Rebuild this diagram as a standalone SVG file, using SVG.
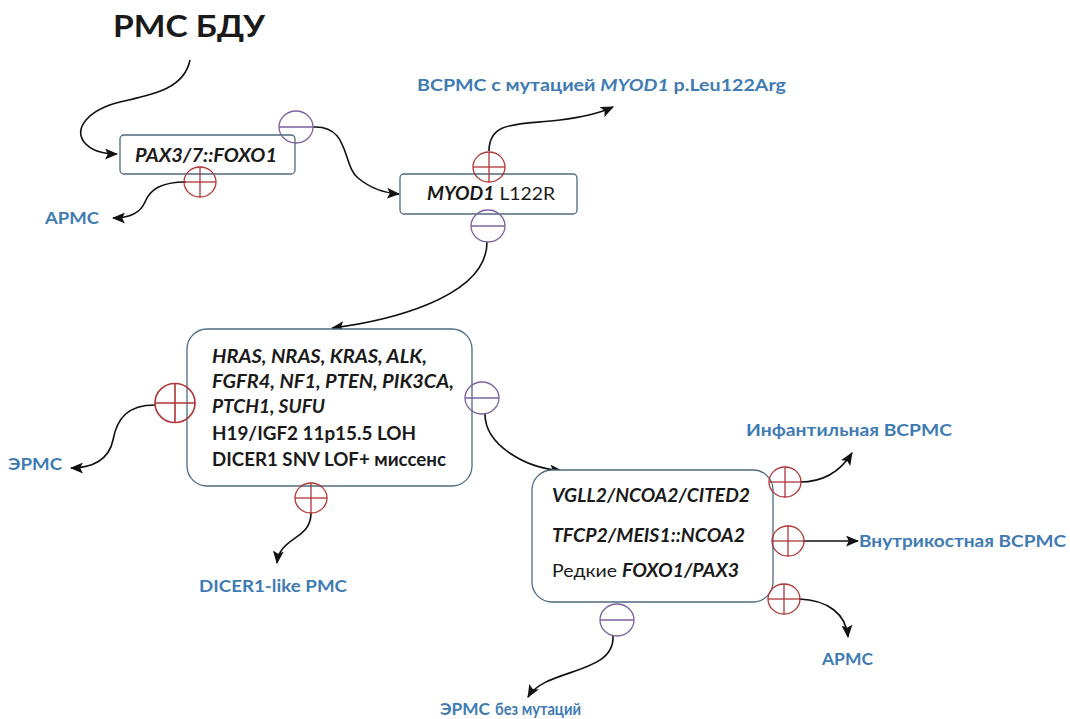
<svg xmlns="http://www.w3.org/2000/svg" width="1070" height="719" viewBox="0 0 1070 719">
  <defs>
    <marker id="ah" viewBox="0 0 12 10" refX="11" refY="5" markerWidth="13" markerHeight="11" markerUnits="userSpaceOnUse" orient="auto">
      <path d="M0,0 L12,5 L0,10 L2.5,5 z" fill="#111"/>
    </marker>
    <g id="plus"><ellipse cx="0" cy="0" rx="16" ry="15"/><line x1="-16" y1="0" x2="16" y2="0"/><line x1="0" y1="-15" x2="0" y2="15"/></g>
    <g id="minus"><ellipse cx="0" cy="0" rx="17" ry="16"/><line x1="-17" y1="0" x2="17" y2="0"/></g>
  </defs>
  <style>
    text { font-family: "Lato", "Open Sans", "Noto Sans", sans-serif; fill: #1a1a1a; }
    .box { fill: #ffffff; stroke: #4d6a80; stroke-width: 1.3; }
    .gene { font-weight: 700; font-style: italic; }
    .b { font-weight: 700; }
    .n { font-weight: 400; }
    .lbl { fill: #3f7bb3; font-weight: 700; font-size: 17px; }
    .lbl tspan { fill: #3f7bb3; }
    .t { font-size: 18px; }
    .conn path, .conn line { fill: none; stroke: #111; stroke-width: 1.6; marker-end: url(#ah); }
    .p { fill: none; stroke: #b03535; stroke-width: 1.3; }
    .p ellipse, .p line { fill: none; stroke: #b03535; }
    .m { fill: none; stroke: #7b62a0; stroke-width: 1.3; }
    .m ellipse, .m line { fill: none; stroke: #7b62a0; }
  </style>
  <rect width="1070" height="719" fill="#ffffff"/>

  <g id="title">
    <text x="113" y="37" font-size="31" font-weight="700" textLength="152" lengthAdjust="spacingAndGlyphs">РМС БДУ</text>
  </g>

  <g class="conn" id="connectors">
    <path d="M190,60 C184,90 150,95 120,102 C88,110 74,128 84,142 C92,152 104,154 117,154"/>
    <path d="M186,182 C160,182 150,190 145,202 C140,214 128,218 113,218"/>
    <path d="M313,127 C350,125 342,165 358,178 C370,188 384,193 399,194"/>
    <path d="M489,151 C489,120 520,125 560,120 C585,117 600,113 613,107"/>
    <path d="M487,242 C487,300 380,322 332,328"/>
    <path d="M155,405 C128,405 117,418 113,440 C109,460 92,468 71,468"/>
    <path d="M311,513 C311,540 280,536 277,563"/>
    <path d="M485,414 C485,445 525,468 562,471"/>
    <path d="M800,482 C822,482 840,472 852,453"/>
    <line x1="803" y1="541" x2="858" y2="541"/>
    <path d="M799,599 C828,600 846,614 848,637"/>
    <path d="M613,636 C615,675 545,668 528,697"/>
  </g>

  <g id="node-pax">
    <rect class="box" x="120" y="135" width="175" height="39" rx="4"/>
    <text class="t gene" x="135" y="162" textLength="142" lengthAdjust="spacingAndGlyphs">PAX3/7::FOXO1</text>
    <use href="#minus" class="m" transform="translate(296,127)"/>
    <use href="#plus" class="p" transform="translate(200,182)"/>
  </g>

  <g id="node-myod">
    <rect class="box" x="400" y="174" width="177" height="40" rx="4"/>
    <text class="t" x="427" y="200" textLength="128" lengthAdjust="spacingAndGlyphs"><tspan class="gene">MYOD1</tspan><tspan class="n"> L122R</tspan></text>
    <use href="#plus" class="p" transform="translate(489,167)"/>
    <use href="#minus" class="m" transform="translate(488,226)"/>
  </g>

  <g id="node-ras">
    <rect class="box" x="187" y="329" width="285" height="157" rx="20"/>
    <text class="t gene" x="212" y="363" textLength="215" lengthAdjust="spacingAndGlyphs">HRAS, NRAS, KRAS,  ALK,</text>
    <text class="t gene" x="212" y="388" textLength="242" lengthAdjust="spacingAndGlyphs">FGFR4,  NF1, PTEN,  PIK3CA,</text>
    <text class="t gene" x="212" y="413" textLength="113" lengthAdjust="spacingAndGlyphs">PTCH1, SUFU</text>
    <text class="t b" x="212" y="440" textLength="204" lengthAdjust="spacingAndGlyphs">H19/IGF2  11p15.5 LOH</text>
    <text class="t b" x="212" y="466" textLength="234" lengthAdjust="spacingAndGlyphs">DICER1  SNV LOF+ миссенс</text>
    <use href="#plus" class="p" transform="translate(175,403) scale(1.25,1.3)"/>
    <use href="#minus" class="m" transform="translate(482,398)"/>
    <use href="#plus" class="p" transform="translate(311,498)"/>
  </g>

  <g id="node-vgll">
    <rect class="box" x="532" y="470" width="241" height="132" rx="20"/>
    <text class="t gene" x="552" y="502" textLength="198" lengthAdjust="spacingAndGlyphs">VGLL2/NCOA2/CITED2</text>
    <text class="t gene" x="552" y="542" textLength="193" lengthAdjust="spacingAndGlyphs">TFCP2/MEIS1::NCOA2</text>
    <text class="t" x="552" y="577" textLength="187" lengthAdjust="spacingAndGlyphs"><tspan class="n">Редкие </tspan><tspan class="gene">FOXO1/PAX3</tspan></text>
    <use href="#plus" class="p" transform="translate(785,482)"/>
    <use href="#plus" class="p" transform="translate(788,541)"/>
    <use href="#plus" class="p" transform="translate(784,599)"/>
    <use href="#minus" class="m" transform="translate(617,620)"/>
  </g>

  <g id="labels">
    <text class="lbl" x="417" y="91" textLength="369" lengthAdjust="spacingAndGlyphs">ВСРМС с мутацией <tspan font-style="italic">MYOD1</tspan> p.Leu122Arg</text>
    <text class="lbl" x="45" y="224" textLength="54" lengthAdjust="spacingAndGlyphs">АРМС</text>
    <text class="lbl" x="8" y="470" textLength="54" lengthAdjust="spacingAndGlyphs">ЭРМС</text>
    <text class="lbl" x="199" y="592" textLength="148" lengthAdjust="spacingAndGlyphs">DICER1-like  РМС</text>
    <text class="lbl" x="746" y="436" textLength="206" lengthAdjust="spacingAndGlyphs">Инфантильная   ВСРМС</text>
    <text class="lbl" x="859" y="547" textLength="207" lengthAdjust="spacingAndGlyphs">Внутрикостная   ВСРМС</text>
    <text class="lbl" x="822" y="665" textLength="51" lengthAdjust="spacingAndGlyphs">АРМС</text>
    <text class="lbl" x="440" y="715" textLength="50" lengthAdjust="spacingAndGlyphs">ЭРМС</text>
    <text class="lbl" x="495" y="715" font-size="12" font-weight="400" textLength="86" lengthAdjust="spacingAndGlyphs">без мутаций</text>
  </g>
</svg>
